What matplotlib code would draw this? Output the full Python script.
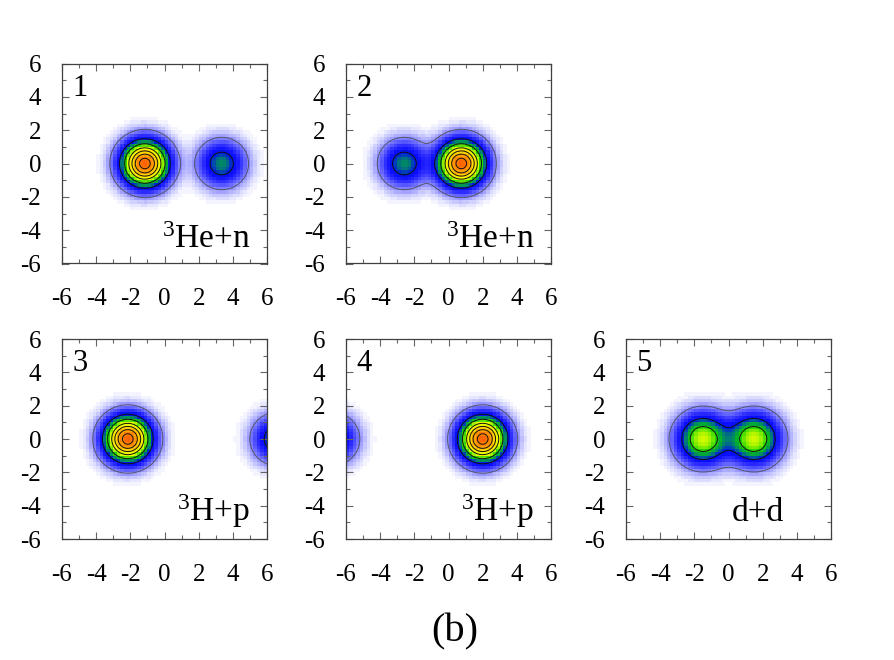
import numpy as np
import matplotlib
matplotlib.use("Agg")
import matplotlib.pyplot as plt
from matplotlib.colors import LinearSegmentedColormap
from matplotlib.ticker import MultipleLocator

plt.rcParams['font.family'] = ['Liberation Serif', 'DejaVu Serif']
plt.rcParams['mathtext.fontset'] = 'custom'
plt.rcParams['mathtext.rm'] = 'Liberation Serif'
plt.rcParams['axes.unicode_minus'] = False

# ---- data: blob centres (x), amplitudes, widths per panel ----
panel_ids = ['1', '2', '3', '4', '5']
panel_labels = [r'$\mathregular{^3}$He+n', r'$\mathregular{^3}$He+n',
                r'$\mathregular{^3}$H+p', r'$\mathregular{^3}$H+p', 'd+d']
centers_1 = [-1.15, 3.35]
centers_2 = [-2.6, 0.75]
centers_3 = [-2.15, 6.6]
centers_4 = [2.0, -6.8]
centers_5 = [-1.5, 1.5]
amps_1 = [0.92, 0.275]
amps_2 = [0.275, 0.92]
amps_3 = [0.92, 0.30]
amps_4 = [0.92, 0.30]
amps_5 = [0.48, 0.48]
sigmas = [0.85, 0.85, 0.85, 0.85, 0.93]
contour_levels = [0.05, 0.2, 0.35, 0.5, 0.62, 0.74, 0.86]
tick_values = [-6, -4, -2, 0, 2, 4, 6]
tick_labels = ['-6', '-4', '-2', '0', '2', '4', '6']
caption = '(b)'

centers = [centers_1, centers_2, centers_3, centers_4, centers_5]
amps = [amps_1, amps_2, amps_3, amps_4, amps_5]

cmap = LinearSegmentedColormap.from_list('dens', [
    (0.000, (1.0, 1.0, 1.0)),
    (0.003, (0.97, 0.97, 1.0)),
    (0.010, (0.88, 0.88, 1.0)),
    (0.030, (0.68, 0.68, 1.0)),
    (0.060, (0.45, 0.45, 1.0)),
    (0.110, (0.20, 0.20, 1.0)),
    (0.170, (0.04, 0.04, 1.0)),
    (0.210, (0.0, 0.12, 0.85)),
    (0.260, (0.0, 0.48, 0.47)),
    (0.300, (0.0, 0.66, 0.22)),
    (0.350, (0.10, 0.82, 0.0)),
    (0.420, (0.52, 0.93, 0.0)),
    (0.500, (0.93, 1.0, 0.0)),
    (0.600, (1.0, 0.90, 0.0)),
    (0.720, (1.0, 0.70, 0.0)),
    (0.850, (1.0, 0.50, 0.0)),
    (1.000, (1.0, 0.25, 0.0)),
])


def field(X, Y, cs, As, s):
    Z = np.zeros_like(X)
    for c, a in zip(cs, As):
        Z += a * np.exp(-((X - c) ** 2 + Y ** 2) / (2 * s ** 2))
    return Z


fig = plt.figure(figsize=(8.94, 6.60), dpi=100)

W = 205 / 894
H = 200 / 660
positions = [
    (62 / 894, 1 - 263.5 / 660),
    (346 / 894, 1 - 263.5 / 660),
    (62 / 894, 1 - 539 / 660),
    (346 / 894, 1 - 539 / 660),
    (626 / 894, 1 - 539 / 660),
]
label_pos = [(0.92, 0.078), (0.92, 0.078), (0.92, 0.09), (0.92, 0.09), (0.77, 0.09)]

# coarse grid for pixelated map, fine grid for contours
edges = np.linspace(-6, 6, 61)
mid = 0.5 * (edges[1:] + edges[:-1])
Xc, Yc = np.meshgrid(mid, mid)
fine = np.linspace(-6, 6, 361)
Xf, Yf = np.meshgrid(fine, fine)

for i in range(5):
    l, b = positions[i]
    ax = fig.add_axes([l, b, W, H])
    Zc = field(Xc, Yc, centers[i], amps[i], sigmas[i])
    Zf = field(Xf, Yf, centers[i], amps[i], sigmas[i])
    ax.pcolormesh(edges, edges, Zc, cmap=cmap, vmin=0, vmax=1, shading='flat')
    lev = [v for v in contour_levels if v < Zf.max()]
    cols = ['#55556a'] + ['#111111'] * (len(lev) - 1)
    ax.contour(Xf, Yf, Zf, levels=lev, colors=cols, linewidths=0.7)
    ax.set_xlim(-6, 6)
    ax.set_ylim(-6, 6)
    ax.set_xticks(tick_values)
    ax.set_xticklabels(tick_labels)
    ax.set_yticks(tick_values)
    ax.set_yticklabels(tick_labels)
    ax.xaxis.set_minor_locator(MultipleLocator(1))
    ax.yaxis.set_minor_locator(MultipleLocator(1))
    ax.tick_params(which='both', direction='in', top=True, right=True,
                   color='0.4', width=0.8, labelsize=18)
    ax.tick_params(which='major', length=5)
    ax.tick_params(which='minor', length=3)
    ax.tick_params(axis='x', which='major', pad=18)
    ax.tick_params(axis='y', which='major', pad=15)
    for s in ax.spines.values():
        s.set_color('0.25')
        s.set_linewidth(0.9)
    ax.text(0.05, 0.95, panel_ids[i], transform=ax.transAxes, ha='left', va='top',
            fontsize=22)
    ax.text(label_pos[i][0], label_pos[i][1], panel_labels[i], transform=ax.transAxes,
            ha='right', va='baseline', fontsize=24)

fig.text(455 / 894, 1 - 632 / 660, caption, ha='center', va='center', fontsize=29)

fig.savefig('out.png', dpi=100)
